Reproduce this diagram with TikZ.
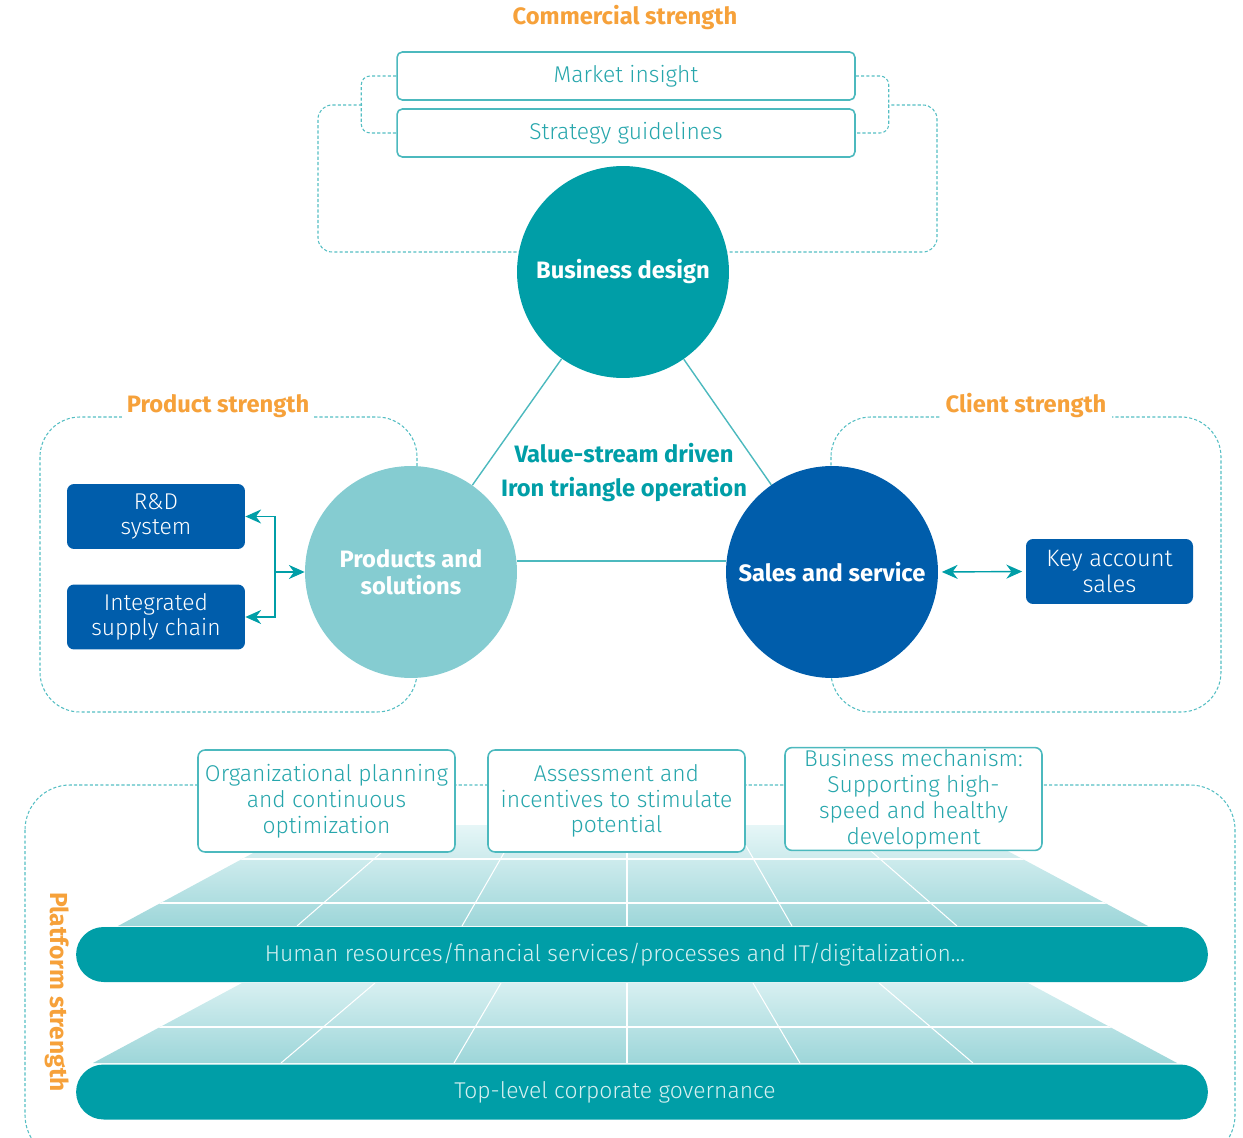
\documentclass[tikz,border=0pt]{standalone}
\usepackage{fontspec}
\setmainfont{Fira Sans}[UprightFont={* Light}, BoldFont={* Bold}]
\usepackage{tikz}
\usetikzlibrary{arrows.meta, positioning, calc}

\definecolor{tealmain}{RGB}{0,158,167}
\definecolor{teallight}{RGB}{133,204,209}
\definecolor{bluedark}{RGB}{0,93,171}
\definecolor{orangetxt}{RGB}{246,161,58}
\definecolor{dashc}{RGB}{85,190,195}
\definecolor{boxline}{RGB}{76,185,190}
\definecolor{boxtxt}{RGB}{38,166,172}
\definecolor{trtop}{RGB}{230,246,247}
\definecolor{trbot}{RGB}{157,214,217}
\definecolor{bartxt}{RGB}{214,240,241}

\begin{document}
\begin{tikzpicture}[x=0.02cm, y=-0.02cm,
    hub/.style={circle, minimum size=4.24cm, inner sep=0pt, align=center, text=white, font=\bfseries\fontsize{13.5}{15.5}\selectfont},
    topbox/.style={rectangle, draw=boxline, line width=0.9pt, fill=white, rounded corners=3pt, minimum width=9.16cm, minimum height=0.96cm, text=boxtxt, font=\fontsize{13}{15}\selectfont},
    basebox/.style={rectangle, draw=boxline, line width=0.9pt, fill=white, rounded corners=4pt, minimum width=5.14cm, minimum height=2.04cm, inner sep=1pt, align=center, text=boxtxt, font=\fontsize{13}{14.7}\selectfont},
    bluebox/.style={rectangle, fill=bluedark, rounded corners=4pt, minimum height=1.3cm, align=center, text=white, font=\fontsize{13}{14.5}\selectfont},
    bar/.style={rectangle, fill=tealmain, rounded corners=0.55cm, minimum width=22.64cm, minimum height=1.1cm, inner sep=0pt},
    bartext/.style={text=bartxt, font=\fontsize{13}{15}\selectfont},
    strength/.style={text=orangetxt, font=\bfseries\fontsize{13.5}{15}\selectfont},
    dashline/.style={draw=dashc, line width=0.6pt, dash pattern=on 1.8pt off 1.2pt},
    tri/.style={draw=boxline, line width=0.8pt},
    arrow/.style={draw=tealmain, line width=0.8pt, -{Stealth[length=9pt, width=8pt]}},
    gridline/.style={draw=white, line width=0.6pt}
  ]
\useasboundingbox (0,0) rectangle (1243,1138);

% Commercial strength
\node[strength] (comm) at (625,18) {Commercial strength};
\node[topbox] (mi) at (626,76) {Market insight};
\node[topbox] (sg) at (626,133) {Strategy guidelines};
\coordinate (lb) at (362,105);
\coordinate (rb) at (888,105);
\draw[dashline, rounded corners=5pt] (mi.west) -- ++(-35,0) |- (sg.west);
\draw[dashline, rounded corners=5pt] (mi.east) -- ++(33,0) |- (sg.east);
\draw[dashline, rounded corners=8pt] (lb) -- (318,105) -- (318,252) -- (937,252) -- (937,105) -- (rb);

% Product and client strength
\draw[dashline, rounded corners=0.8cm] (40,417) rectangle (417,712);
\draw[dashline, rounded corners=0.8cm] (831,417) rectangle (1221,712);
\node[strength, fill=white, inner sep=3pt] (prodlbl) at (218,406) {Product strength};
\node[strength, fill=white, inner sep=3pt] (clilbl) at (1026,406) {Client strength};

% Iron triangle
\node[hub, fill=tealmain] (bd) at (623,272) {Business design};
\node[hub, fill=teallight] (ps) at (411,572) {Products and\\solutions};
\node[hub, fill=bluedark] (ss) at (832,572) {Sales and service};
\draw[tri] (bd) -- (ps);
\draw[tri] (bd) -- (ss);
\draw[tri] (ps.6) -- (ss.174);
\node[text=tealmain, font=\bfseries\fontsize{13.5}{15}\selectfont] (vsd) at (624,453) {Value-stream driven};
\node[text=tealmain, font=\bfseries\fontsize{13.5}{15}\selectfont] (ito) at (624,490) {Iron triangle operation};

\node[bluebox, minimum width=3.56cm] (rd) at (156,516.5) {R\&D\\system};
\node[bluebox, minimum width=3.56cm] (isc) at (156,617) {Integrated\\supply chain};
\node[bluebox, minimum width=3.34cm, font=\fontsize{13.5}{14.5}\selectfont] (ka) at (1109.5,571.5) {Key account\\sales};
\coordinate (jn) at (275,572);
\draw[arrow] (jn) -- (ps.west);
\draw[arrow] (jn) |- (rd.east);
\draw[arrow] (jn) |- (isc.east);
\draw[arrow, {Stealth[length=9pt, width=8pt]}-{Stealth[length=9pt, width=8pt]}, shorten <=2pt, shorten >=2pt] (ss.east) -- (ka.west);

% Platform strength
\draw[dashline, rounded corners=0.9cm] (25,785) rectangle (1235,1160);
\node[strength, rotate=-90, font=\bfseries\fontsize{14}{15}\selectfont] (platlbl) at (57,992) {Platform strength};

\begin{scope}
  \clip (305,825) -- (959,825) -- (1148,926) -- (118,926) -- cycle;
  \shade[top color=trtop, bottom color=trbot] (100,825) rectangle (1160,926);
  \foreach \i in {-2,...,2}
    \draw[gridline] ({627+165*\i},926) -- ({627+107*\i},825);
  \draw[gridline] (100,859) -- (1160,859);
  \draw[gridline] (100,903) -- (1160,903);
\end{scope}
\begin{scope}
  \clip (242,983) -- (1028,983) -- (1177,1063) -- (93,1063) -- cycle;
  \shade[top color=trtop!80!trbot, bottom color=trbot] (90,983) rectangle (1180,1063);
  \foreach \i in {-2,...,2}
    \draw[gridline] ({627+173*\i},1063) -- ({627+126*\i},983);
  \draw[gridline] (90,1027) -- (1180,1027);
\end{scope}

\node[bar, label={[bartext, xshift=-0.54cm]center:Human resources/financial services/processes and IT/digitalization...}] (hrbar) at (642,954.5) {};
\node[bar, label={[bartext, xshift=-0.54cm]center:Top-level corporate governance}] (govbar) at (642,1092) {};

\node[basebox] (org) at (326.5,801) {Organizational planning\\and continuous\\optimization};
\node[basebox] (ass) at (616.5,801) {Assessment and\\incentives to stimulate\\potential};
\node[basebox] (mech) at (913.5,799) {Business mechanism:\\Supporting high-\\speed and healthy\\development};

\end{tikzpicture}
\end{document}
